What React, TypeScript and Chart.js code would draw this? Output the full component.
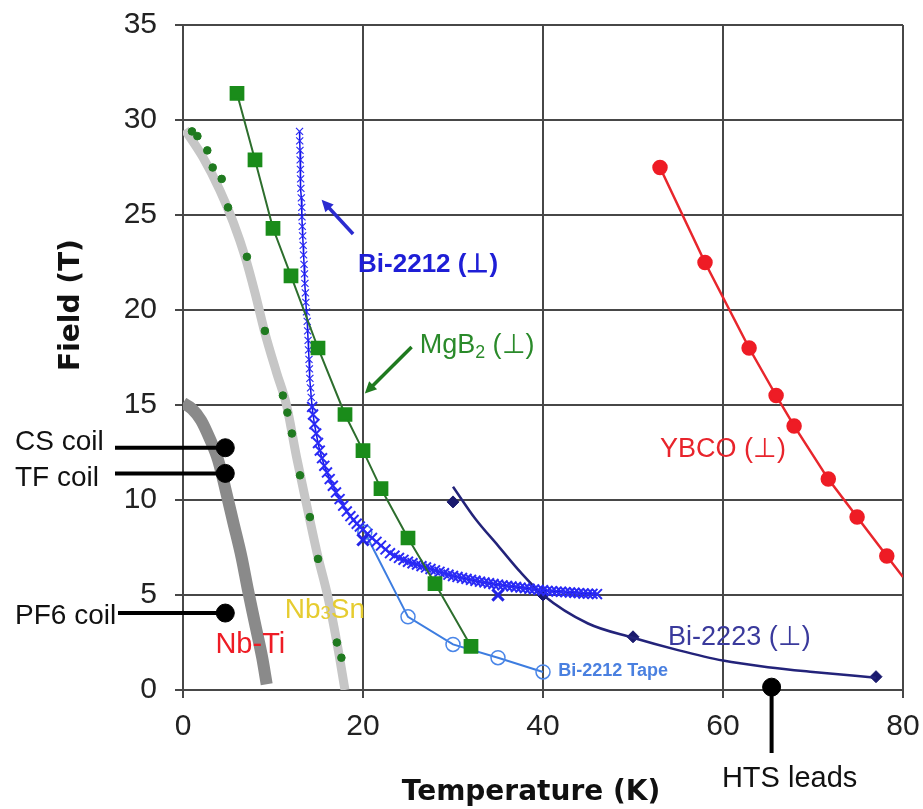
import React, { useEffect, useRef } from 'react';
import { Chart, registerables } from 'chart.js';
Chart.register(...registerables);

// ---------- data (Temperature K, Field T) ----------
const xTickValues = [0, 20, 40, 60, 80];
const yTickValues = [0, 5, 10, 15, 20, 25, 30, 35];

const nbTiBand: number[][] = [
  [0, 15.1], [1, 14.8], [2, 14.2], [3, 13.2], [3.9, 12.1], [4.7, 10.6], [5.6, 8.8],
  [6.5, 7.0], [7.2, 5.3], [8.0, 3.5], [8.8, 1.7], [9.3, 0.3],
];
const nb3SnBand: number[][] = [
  [0.2, 29.5], [2.2, 28.05], [4.1, 26.3], [5.6, 24.6], [6.9, 22.8], [8.0, 20.9], [9.1, 18.8],
  [10.4, 16.7], [11.5, 15.0], [12.6, 12.3], [13.8, 9.6], [15.0, 7.0], [16.1, 4.9], [17.1, 2.5], [18.0, 0],
];
const nb3SnDots: number[][] = [
  [1.0, 29.4], [1.6, 29.15], [2.7, 28.4], [3.3, 27.5], [4.3, 26.9], [5.0, 25.4], [7.1, 22.8],
  [9.1, 18.9], [11.1, 15.5], [11.6, 14.6], [12.1, 13.5], [13.0, 11.3], [14.1, 9.1], [15.0, 6.9],
  [17.1, 2.5], [17.6, 1.7],
];
const mgB2: number[][] = [
  [6, 31.4], [8, 27.9], [10, 24.3], [12, 21.8], [15, 18.0], [18, 14.5], [20, 12.6], [22, 10.6],
  [25, 8.0], [28, 5.6], [32, 2.3],
];
const bi2212: number[][] = [
  [12.95, 29.4], [12.97, 28.9], [13.0, 28.4], [13.02, 27.9], [13.05, 27.4], [13.07, 26.9], [13.1, 26.4],
  [13.15, 25.9], [13.2, 25.4], [13.22, 24.9], [13.25, 24.4], [13.3, 23.9], [13.35, 23.4], [13.4, 22.9],
  [13.45, 22.4], [13.5, 21.9], [13.55, 21.4], [13.6, 20.9], [13.65, 20.4], [13.72, 19.9], [13.8, 19.4],
  [13.85, 18.9], [13.9, 18.4], [13.95, 17.9], [14.0, 17.4], [14.05, 16.9], [14.1, 16.4], [14.17, 15.9],
  [14.25, 15.4], [14.35, 14.9], [14.45, 14.5], [14.6, 14.0], [14.8, 13.5], [15.0, 13.0], [15.2, 12.6],
  [15.45, 12.2], [15.7, 11.8], [16.0, 11.45], [16.3, 11.1], [16.65, 10.75], [17.0, 10.4], [17.4, 10.05],
  [17.8, 9.7], [18.2, 9.4], [18.6, 9.15], [18.95, 8.95], [19.3, 8.75], [19.65, 8.6], [20, 8.45],
  [20.5, 8.22], [21, 8.0], [21.5, 7.8], [22, 7.6], [22.5, 7.4], [23, 7.2], [23.5, 7.07], [24, 6.95],
  [24.5, 6.85], [25, 6.75], [25.5, 6.67], [26, 6.6], [26.5, 6.52], [27, 6.45], [27.5, 6.37], [28, 6.3],
  [28.5, 6.22], [29, 6.15], [29.5, 6.07], [30, 6.0], [30.5, 5.95], [31, 5.9], [31.5, 5.85], [32, 5.8],
  [32.5, 5.75], [33, 5.7], [33.5, 5.66], [34, 5.62], [34.5, 5.58], [35, 5.55], [35.5, 5.51], [36, 5.48],
  [36.5, 5.45], [37, 5.42], [37.5, 5.39], [38, 5.36], [38.5, 5.33], [39, 5.3], [39.5, 5.27], [40, 5.25],
  [40.5, 5.22], [41, 5.2], [41.5, 5.18], [42, 5.17], [42.5, 5.15], [43, 5.13], [43.5, 5.12], [44, 5.1],
  [44.5, 5.08], [45, 5.07], [45.5, 5.06], [46, 5.05],
];
const bi2212Marks: number[][] = [[20, 7.9], [35, 5.0]];
const bi2212Tape: number[][] = [[20.2, 8.3], [25, 3.85], [30, 2.4], [35, 1.7], [40, 0.95]];
const bi2223Fit: number[][] = [
  [30, 10.7], [32.5, 9.0], [35, 7.6], [37.5, 6.2], [40, 5.0], [45, 3.5], [50, 2.75], [55, 2.1],
  [60, 1.55], [65, 1.2], [70, 0.95], [77, 0.65],
];
const bi2223Pts: number[][] = [[30, 9.9], [40, 5.0], [50, 2.8], [77, 0.7]];
const ybco: number[][] = [
  [53, 27.5], [58, 22.5], [62.9, 18.0], [65.9, 15.5], [67.9, 13.9], [71.7, 11.1], [74.9, 9.1],
  [78.2, 7.05], [80, 5.95],
];
const coilNames = ['CS coil', 'TF coil', 'PF6 coil'];
const coilT = [4.7, 4.7, 4.7];
const coilB = [12.75, 11.4, 4.05];
const htsLeads: number[][] = [[65.4, 0.15]];

// ---------- annotation config (labels in data coordinates) ----------
const FONT = "'Liberation Sans', Arial, Helvetica, sans-serif";
const TITLE_FONT = "'DejaVu Sans', Verdana, sans-serif";

type Seg = { t: string; sub?: boolean; small?: boolean };
const labels: { segs: Seg[]; T: number; B: number; color: string; size: number; bold?: boolean }[] = [
  { segs: [{ t: 'Bi-2212 (⊥)' }], T: 19.45, B: 22.5, color: '#1e1ed6', size: 26, bold: true },
  { segs: [{ t: 'MgB' }, { t: '2', sub: true }, { t: ' (⊥)' }], T: 26.3, B: 18.25, color: '#2a8a2a', size: 27 },
  { segs: [{ t: 'YBCO (⊥)' }], T: 53.0, B: 12.75, color: '#e8242c', size: 27 },
  { segs: [{ t: 'Bi-2223 (⊥)' }], T: 53.9, B: 2.9, color: '#3a3a9c', size: 27 },
  { segs: [{ t: 'Bi-2212 Tape' }], T: 41.7, B: 1.1, color: '#4a80e0', size: 18, bold: true },
  { segs: [{ t: 'Nb' }, { t: '3', small: true }, { t: 'Sn' }], T: 11.3, B: 4.3, color: '#e6cc30', size: 28 },
  { segs: [{ t: 'Nb-Ti' }], T: 3.6, B: 2.5, color: '#ee1c25', size: 29 },
];
const arrows = [
  { from: [18.9, 24.0], to: [15.4, 25.8], color: '#2b2bd0' },
  { from: [25.4, 18.05], to: [20.2, 15.6], color: '#1f7a1f' },
];

function App() {
  const ref = useRef<HTMLCanvasElement>(null);

  useEffect(() => {
    const canvas = ref.current!;
    const xy = (a: number[][]) => a.map(([x, y]) => ({ x, y }));

    const drawRich = (ctx: CanvasRenderingContext2D, segs: Seg[], x: number, cy: number, size: number, bold: boolean, color: string) => {
      const base = cy + size * 0.358;
      let cx = x;
      ctx.fillStyle = color;
      ctx.textAlign = 'left';
      ctx.textBaseline = 'alphabetic';
      for (const s of segs) {
        const sz = s.sub || s.small ? size * 0.66 : size;
        ctx.font = `${bold ? 'bold ' : ''}${sz}px ${FONT}`;
        const dy = s.sub ? size * 0.18 : s.small ? size * 0.02 : 0;
        ctx.fillText(s.t, cx, base + dy);
        cx += ctx.measureText(s.t).width;
      }
    };

    const annot = {
      id: 'annot',
      afterDatasetsDraw(chart: any) {
        const ctx: CanvasRenderingContext2D = chart.ctx;
        const xs = chart.scales.x;
        const ys = chart.scales.y;
        ctx.save();
        for (const l of labels) {
          drawRich(ctx, l.segs, xs.getPixelForValue(l.T), ys.getPixelForValue(l.B), l.size, !!l.bold, l.color);
        }
        for (const a of arrows) {
          const x1 = xs.getPixelForValue(a.from[0]);
          const y1 = ys.getPixelForValue(a.from[1]);
          const x2 = xs.getPixelForValue(a.to[0]);
          const y2 = ys.getPixelForValue(a.to[1]);
          const ang = Math.atan2(y2 - y1, x2 - x1);
          const hl = 13;
          ctx.strokeStyle = a.color;
          ctx.fillStyle = a.color;
          ctx.lineWidth = 3.5;
          ctx.beginPath();
          ctx.moveTo(x1, y1);
          ctx.lineTo(x2 - Math.cos(ang) * hl * 0.7, y2 - Math.sin(ang) * hl * 0.7);
          ctx.stroke();
          ctx.beginPath();
          ctx.moveTo(x2, y2);
          ctx.lineTo(x2 - hl * Math.cos(ang - 0.45), y2 - hl * Math.sin(ang - 0.45));
          ctx.lineTo(x2 - hl * Math.cos(ang + 0.45), y2 - hl * Math.sin(ang + 0.45));
          ctx.closePath();
          ctx.fill();
        }
        ctx.strokeStyle = '#000';
        ctx.lineWidth = 4;
        const lineEnds = [115, 115, 118];
        const textDy = [-8, 3, 1];
        coilNames.forEach((name, i) => {
          const px = xs.getPixelForValue(coilT[i]);
          const py = ys.getPixelForValue(coilB[i]);
          ctx.beginPath();
          ctx.moveTo(lineEnds[i], py);
          ctx.lineTo(px, py);
          ctx.stroke();
          drawRich(ctx, [{ t: name }], 15, py + textDy[i], 28, false, '#111');
        });
        const hx = xs.getPixelForValue(htsLeads[0][0]);
        const hy = ys.getPixelForValue(htsLeads[0][1]);
        ctx.beginPath();
        ctx.moveTo(hx, hy);
        ctx.lineTo(hx, 753);
        ctx.stroke();
        ctx.font = `29px ${FONT}`;
        ctx.fillStyle = '#111';
        ctx.textAlign = 'center';
        ctx.textBaseline = 'alphabetic';
        ctx.fillText('HTS leads', hx + 18, 787);
        ctx.font = `bold 28px ${TITLE_FONT}`;
        ctx.fillStyle = '#111';
        ctx.textAlign = 'center';
        ctx.fillText('Temperature (K)', 531, 800);
        ctx.save();
        ctx.translate(79, 305);
        ctx.rotate(-Math.PI / 2);
        ctx.fillText('Field (T)', 0, 0);
        ctx.restore();
        ctx.restore();
      },
    };

    const gridColor = '#474747';
    const chart = new Chart(canvas, {
      type: 'scatter',
      data: {
        datasets: [
          {
            label: 'coils', data: coilT.map((t, i) => ({ x: t, y: coilB[i] })), pointRadius: 9,
            pointBackgroundColor: '#000', pointBorderColor: '#000', showLine: false, clip: false, order: 0,
          } as any,
          {
            label: 'HTS leads', data: xy(htsLeads), pointRadius: 9, pointBackgroundColor: '#000',
            pointBorderColor: '#000', showLine: false, clip: false, order: 0,
          },
          {
            label: 'MgB2', data: xy(mgB2), showLine: true, borderColor: '#2d6e2d', borderWidth: 2,
            pointStyle: 'rect', pointRadius: 9, pointBackgroundColor: '#1a8c1a', pointBorderColor: '#1a8c1a', order: 1,
          },
          {
            label: 'Bi-2212 marks', data: xy(bi2212Marks), showLine: false, pointStyle: 'crossRot',
            pointRadius: 8, pointBorderWidth: 3, pointBorderColor: '#2424e6', order: 2,
          },
          {
            label: 'Bi-2212', data: xy(bi2212), showLine: true, borderColor: '#1414e8', borderWidth: 1.5,
            pointStyle: 'crossRot', pointRadius: (c: any) => (c.raw && c.raw.y > 15 ? 5 : 7),
            pointBorderWidth: (c: any) => (c.raw && c.raw.y > 15 ? 1.2 : 2),
            pointBorderColor: '#2a2af5', order: 3,
          } as any,
          {
            label: 'Bi-2212 Tape', data: xy(bi2212Tape), showLine: true, borderColor: '#3d7de0', borderWidth: 2,
            pointStyle: 'circle', pointRadius: 7, pointBorderWidth: 1.5, pointBorderColor: '#4a86e8',
            pointBackgroundColor: 'rgba(255,255,255,0)', order: 4,
          },
          {
            label: 'Bi-2223 fit', data: xy(bi2223Fit), showLine: true, borderColor: '#23237a', borderWidth: 2.5,
            pointRadius: 0, tension: 0.4, cubicInterpolationMode: 'monotone', order: 5,
          } as any,
          {
            label: 'Bi-2223', data: xy(bi2223Pts), showLine: false, pointStyle: 'rectRot', pointRadius: 6,
            pointBackgroundColor: '#1a1a6e', pointBorderColor: '#1a1a6e', order: 5,
          },
          {
            label: 'YBCO', data: xy(ybco), showLine: true, borderColor: '#e8262c', borderWidth: 2.5,
            pointRadius: ybco.map((_, i) => (i === ybco.length - 1 ? 0 : 6.5)),
            pointBackgroundColor: '#ee1c25', pointBorderColor: '#ee1c25', order: 6,
          },
          {
            label: 'Nb3Sn dots', data: xy(nb3SnDots), showLine: false, pointRadius: 3.8,
            pointBackgroundColor: '#1f7a1f', pointBorderColor: '#1f7a1f', order: 7,
          },
          {
            label: 'Nb3Sn', data: xy(nb3SnBand), showLine: true, borderColor: '#c6c6c6', borderWidth: 9,
            pointRadius: 0, tension: 0.3, cubicInterpolationMode: 'monotone', order: 8,
          } as any,
          {
            label: 'Nb-Ti', data: xy(nbTiBand), showLine: true, borderColor: '#8a8a8a', borderWidth: 12,
            pointRadius: 0, tension: 0.3, cubicInterpolationMode: 'monotone', order: 9,
          } as any,
        ],
      },
      options: {
        animation: false,
        responsive: false,
        devicePixelRatio: 1,
        layout: { padding: { top: 25, right: 20, left: 0, bottom: 0 } },
        plugins: { legend: { display: false }, tooltip: { enabled: false } },
        scales: {
          x: {
            type: 'linear', min: 0, max: 80,
            afterBuildTicks: (s: any) => { s.ticks = xTickValues.map((v) => ({ value: v })); },
            afterFit: (s: any) => { s.height = 119; s.paddingLeft = 0; s.paddingRight = 0; },
            ticks: { font: { size: 30, family: FONT }, color: '#222', padding: 11 },
            grid: { color: gridColor, lineWidth: 2, tickLength: 8 },
            border: { color: gridColor, width: 2 },
          },
          y: {
            type: 'linear', min: 0, max: 35,
            afterBuildTicks: (s: any) => { s.ticks = yTickValues.map((v) => ({ value: v })); },
            afterFit: (s: any) => { s.width = 183; s.paddingTop = 0; s.paddingBottom = 0; },
            ticks: { font: { size: 30, family: FONT }, color: '#222', padding: 18 },
            grid: { color: gridColor, lineWidth: 2, tickLength: 8 },
            border: { color: gridColor, width: 2 },
          },
        },
      } as any,
      plugins: [annot],
    });
    return () => chart.destroy();
  }, []);

  return (
    <div style={{ position: 'fixed', left: 0, top: 0, width: 923, height: 809, background: '#fff' }}>
      <canvas ref={ref} width={923} height={809} style={{ display: 'block' }} />
    </div>
  );
}

export default App;
